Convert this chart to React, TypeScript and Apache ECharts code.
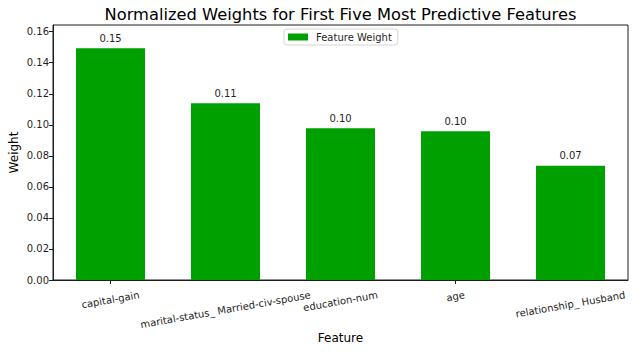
import React, { useEffect, useRef } from "react";
import * as echarts from "echarts";

// Feature importances (normalized) for the five strongest predictors
const features = [
  "capital-gain",
  "marital-status_ Married-civ-spouse",
  "education-num",
  "age",
  "relationship_ Husband",
];
const weights = [0.1493, 0.1139, 0.0978, 0.0959, 0.0736];
const yTicks = [0, 0.02, 0.04, 0.06, 0.08, 0.1, 0.12, 0.14, 0.16];

const FONT = '"DejaVu Sans", Verdana, sans-serif';
const INK = "#1f1f1f";
const BAR = "#00a000";
const LABEL_ANGLE = 10; // degrees, counter-clockwise

function textWidth(text: string, size: number): number {
  const ctx = document.createElement("canvas").getContext("2d");
  if (!ctx) return text.length * size * 0.55;
  ctx.font = `${size}px ${FONT}`;
  return ctx.measureText(text).width;
}

export default function App() {
  const ref = useRef<HTMLDivElement>(null);

  useEffect(() => {
    if (!ref.current) return;
    const chart = echarts.init(ref.current, null, { renderer: "svg" });

    const grid = { left: 53, right: 10, top: 25, bottom: 72 };

    chart.setOption({
      animation: false,
      backgroundColor: "#ffffff",
      textStyle: { fontFamily: FONT },
      grid: {
        ...grid,
        show: true,
        borderColor: INK,
        borderWidth: 1,
        backgroundColor: "transparent",
      },
      legend: {
        data: ["Feature Weight"],
        left: 284,
        top: 29,
        itemWidth: 20,
        itemHeight: 7,
        padding: [3, 6, 3, 4],
        borderColor: "#d4d4d4",
        borderWidth: 1,
        borderRadius: 3,
        backgroundColor: "rgba(255,255,255,0.8)",
        icon: "rect",
        textStyle: {
          fontFamily: FONT,
          fontSize: 10,
          color: INK,
          padding: [0, 0, 0, 3],
        },
      },
      xAxis: {
        type: "category",
        data: features,
        boundaryGap: true,
        axisLine: { show: true, lineStyle: { color: INK, width: 1 } },
        axisTick: {
          show: true,
          alignWithLabel: true,
          length: 4,
          lineStyle: { color: INK },
        },
        axisLabel: { show: false },
        splitLine: { show: false },
      },
      yAxis: {
        type: "value",
        min: 0,
        max: 0.1643,
        interval: 0.02,
        axisLine: { show: true, lineStyle: { color: INK, width: 1 } },
        axisTick: {
          show: true,
          length: 4,
          lineStyle: { color: INK },
          customValues: yTicks,
        },
        axisLabel: {
          show: true,
          margin: 4,
          fontFamily: FONT,
          fontSize: 10,
          color: INK,
          customValues: yTicks,
          formatter: (v: number) => v.toFixed(2),
        },
        splitLine: { show: false },
      },
      series: [
        {
          name: "Feature Weight",
          type: "bar",
          data: weights,
          barWidth: "60%",
          itemStyle: { color: BAR },
          label: {
            show: true,
            position: "top",
            distance: 5,
            fontFamily: FONT,
            fontSize: 10,
            color: INK,
            formatter: (p: any) => Number(p.value).toFixed(2),
          },
        },
      ],
    });

    // Rotated category labels: each one's bounding box hangs just below the ticks
    const theta = (LABEL_ANGLE * Math.PI) / 180;
    const labelTop = 289;
    const labelSize = 10;
    const lineH = 11.6;
    const xLabels = features.map((name, i) => {
      const px = chart.convertToPixel({ xAxisIndex: 0 }, i) as number;
      const w = textWidth(name, labelSize);
      const boxH = w * Math.sin(theta) + lineH * Math.cos(theta);
      return {
        type: "text",
        x: px,
        y: labelTop + boxH / 2,
        rotation: theta,
        style: {
          text: name,
          fontFamily: FONT,
          fontSize: labelSize,
          fill: INK,
          align: "center",
          verticalAlign: "middle",
        },
      };
    });

    const plotCenterX = (grid.left + (638 - grid.right)) / 2;
    const plotCenterY = (grid.top + (352 - grid.bottom)) / 2;

    chart.setOption({
      graphic: [
        {
          type: "text",
          x: plotCenterX,
          y: 14,
          style: {
            text: "Normalized Weights for First Five Most Predictive Features",
            fontFamily: FONT,
            fontSize: 16.3,
            fill: "#000000",
            align: "center",
            verticalAlign: "middle",
          },
        },
        {
          type: "text",
          x: 14,
          y: plotCenterY,
          rotation: Math.PI / 2,
          style: {
            text: "Weight",
            fontFamily: FONT,
            fontSize: 12,
            fill: "#000000",
            align: "center",
            verticalAlign: "middle",
          },
        },
        {
          type: "text",
          x: plotCenterX,
          y: 338,
          style: {
            text: "Feature",
            fontFamily: FONT,
            fontSize: 12,
            fill: "#000000",
            align: "center",
            verticalAlign: "middle",
          },
        },
        ...xLabels,
      ],
    });

    return () => chart.dispose();
  }, []);

  return (
    <div
      ref={ref}
      style={{ position: "fixed", left: 0, top: 0, width: 638, height: 352 }}
    />
  );
}
